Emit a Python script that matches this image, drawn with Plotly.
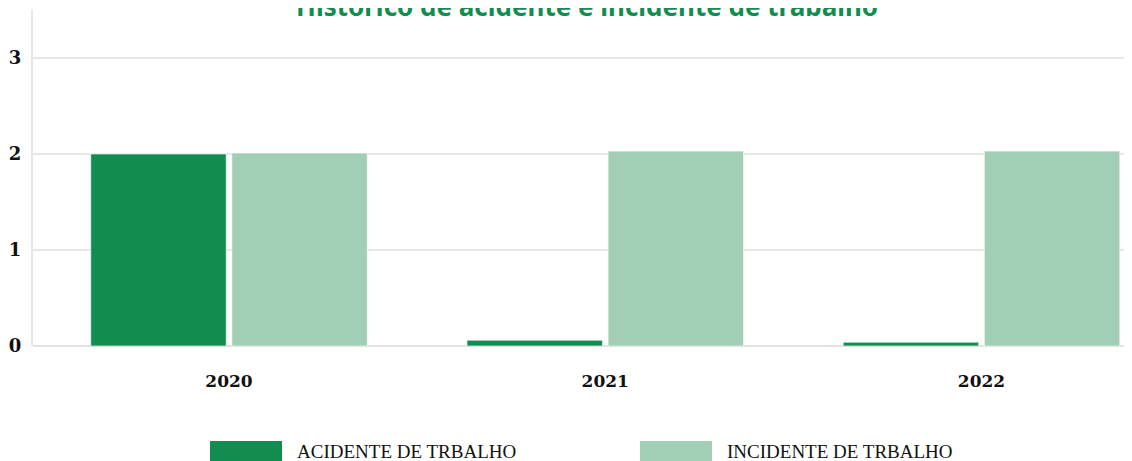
import plotly.graph_objects as go

# Data
categories = ["2020", "2021", "2022"]
series_names = ["ACIDENTE DE TRBALHO", "INCIDENTE DE TRBALHO"]
acidente = [2.0, 0.06, 0.04]
incidente = [2.01, 2.03, 2.03]
y_ticks = [0, 1, 2, 3]
title_text = "Histórico de acidente e incidente de trabalho"

dark = "rgb(19,140,80)"
light = "rgb(163,206,182)"
colors = [dark, light]

W, H = 1132, 461
OFF = 8  # page body offset
ML, MR, MT, MB = 33 - OFF, OFF, 10 - OFF, H - (346 - OFF)

fig = go.Figure()
for name, vals, col in zip(series_names, [acidente, incidente], colors):
    fig.add_trace(go.Bar(
        x=categories, y=vals, name=name,
        marker=dict(color=col, line=dict(color="rgba(255,255,255,0.6)", width=1)),
        showlegend=False, hoverinfo="x+y+name",
    ))

fig.update_layout(
    width=W, height=H,
    margin=dict(l=ML, r=MR, t=MT, b=MB),
    paper_bgcolor="white", plot_bgcolor="white",
    barmode="group", bargap=0.25, bargroupgap=0.04,
    xaxis=dict(type="category", range=[-0.521, 2.40], showgrid=False, showline=False,
               zeroline=False, ticks="", ticklabelstandoff=23,
               tickfont=dict(family="DejaVu Serif", size=17, color="#111", weight="bold")),
    yaxis=dict(range=[0, 3.5], tickvals=y_ticks, showgrid=True, gridcolor="#e8e8e8",
               gridwidth=1.5, zeroline=True, zerolinecolor="#e3e3e3", zerolinewidth=1.5,
               showline=True, linecolor="#e6e6e6", linewidth=2, ticks="",
               ticklabelstandoff=6,
               tickfont=dict(family="DejaVu Serif", size=18, color="#111", weight="bold")),
)

# positions given in screen px
plot_w = W - ML - MR
plot_h = H - MT - MB
def px_x(px):
    return (px - OFF - ML) / plot_w
def px_y(py):
    return (H - MB - (py - OFF)) / plot_h

# Title (sits at the very top, as in the reference)
fig.add_annotation(xref="paper", yref="paper", x=px_x(587), y=px_y(6),
                   xanchor="center", yanchor="middle", showarrow=False, text=title_text,
                   font=dict(family="Noto Sans", size=26, color=dark, weight="bold"))

# Custom legend (large swatches below the plot)
legend_x = [210, 640]
for lx, name, col in zip(legend_x, series_names, colors):
    fig.add_shape(type="rect", xref="paper", yref="paper",
                  x0=px_x(lx), x1=px_x(lx + 72), y0=px_y(462), y1=px_y(441),
                  fillcolor=col, line=dict(width=0), layer="above")
    fig.add_annotation(xref="paper", yref="paper", x=px_x(lx + 85), y=px_y(451),
                       xanchor="left", yanchor="middle", showarrow=False, text=name,
                       font=dict(family="Liberation Serif", size=19, color="#111"))

fig.write_html("out.html")
